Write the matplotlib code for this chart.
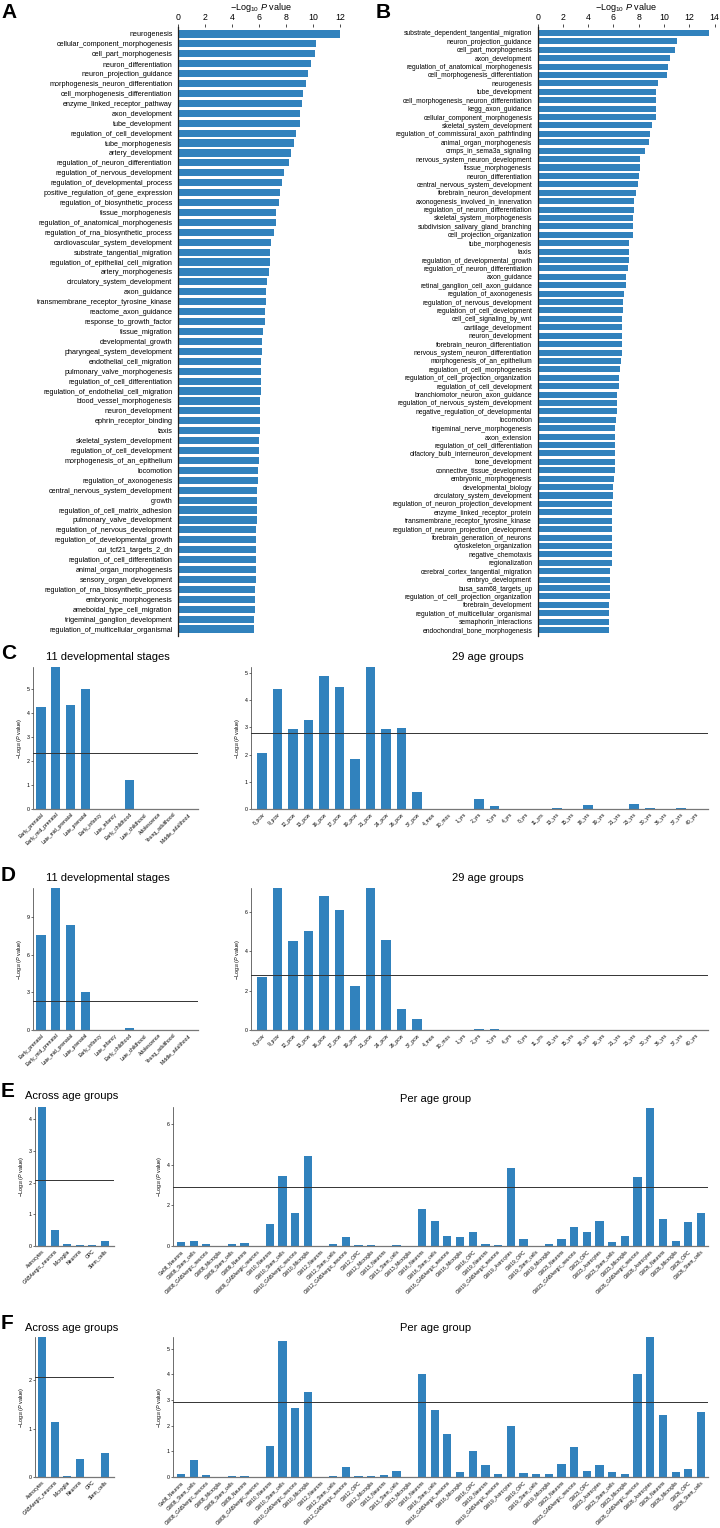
import numpy as np
import matplotlib
matplotlib.use("Agg")
import matplotlib.pyplot as plt

plt.rcParams['font.family'] = ['Liberation Sans', 'DejaVu Sans']
plt.rcParams['mathtext.fontset'] = 'custom'
plt.rcParams['mathtext.rm'] = 'Liberation Sans'
plt.rcParams['mathtext.it'] = 'Liberation Sans:italic'

BLUE = '#3182bd'
LINE = '#333333'

# ---- panel A: gene sets ----
a_terms = [
    'neurogenesis', 'cellular_component_morphogenesis', 'cell_part_morphogenesis',
    'neuron_differentiation', 'neuron_projection_guidance', 'morphogenesis_neuron_differentiation',
    'cell_morphogenesis_differentiation', 'enzyme_linked_receptor_pathway', 'axon_development',
    'tube_development', 'regulation_of_cell_development', 'tube_morphogenesis', 'artery_development',
    'regulation_of_neuron_differentiation', 'regulation_of_nervous_development',
    'regulation_of_developmental_process', 'positive_regulation_of_gene_expression',
    'regulation_of_biosynthetic_process', 'tissue_morphogenesis',
    'regulation_of_anatomical_morphogenesis', 'regulation_of_rna_biosynthetic_process',
    'cardiovascular_system_development', 'substrate_tangential_migration',
    'regulation_of_epithelial_cell_migration', 'artery_morphogenesis',
    'circulatory_system_development', 'axon_guidance', 'transmembrane_receptor_tyrosine_kinase',
    'reactome_axon_guidance', 'response_to_growth_factor', 'tissue_migration',
    'developmental_growth', 'pharyngeal_system_development', 'endothelial_cell_migration',
    'pulmonary_valve_morphogenesis', 'regulation_of_cell_differentiation',
    'regulation_of_endothelial_cell_migration', 'blood_vessel_morphogenesis',
    'neuron_development', 'ephrin_receptor_binding', 'taxis', 'skeletal_system_development',
    'regulation_of_cell_development', 'morphogenesis_of_an_epithelium', 'locomotion',
    'regulation_of_axonogenesis', 'central_nervous_system_development', 'growth',
    'regulation_of_cell_matrix_adhesion', 'pulmonary_valve_development',
    'regulation_of_nervous_development', 'regulation_of_developmental_growth',
    'cui_tcf21_targets_2_dn', 'regulation_of_cell_differentiation', 'animal_organ_morphogenesis',
    'sensory_organ_development', 'regulation_of_rna_biosynthetic_process',
    'embryonic_morphogenesis', 'ameboidal_type_cell_migration', 'trigeminal_ganglion_development',
    'regulation_of_multicellular_organismal',
]
a_vals = [
    12.0, 10.18, 10.13, 9.8, 9.58, 9.46, 9.27, 9.17, 9.04, 9.02, 8.72, 8.6, 8.38, 8.2, 7.81,
    7.69, 7.54, 7.49, 7.27, 7.27, 7.12, 6.85, 6.8, 6.78, 6.75, 6.58, 6.53, 6.51, 6.43, 6.41,
    6.26, 6.24, 6.21, 6.16, 6.16, 6.14, 6.11, 6.09, 6.09, 6.06, 6.06, 6.01, 6.01, 6.01, 5.91,
    5.91, 5.86, 5.86, 5.81, 5.81, 5.79, 5.78, 5.77, 5.76, 5.74, 5.73, 5.72, 5.71, 5.68, 5.65,
    5.62,
]

# ---- panel B: gene sets ----
b_terms = [
    'substrate_dependent_tangential_migration', 'neuron_projection_guidance',
    'cell_part_morphogenesis', 'axon_development', 'regulation_of_anatomical_morphogenesis',
    'cell_morphogenesis_differentiation', 'neurogenesis', 'tube_development',
    'cell_morphogenesis_neuron_differentiation', 'kegg_axon_guidance',
    'cellular_component_morphogenesis', 'skeletal_system_development',
    'regulation_of_commissural_axon_pathfinding', 'animal_organ_morphogenesis',
    'crmps_in_sema3a_signaling', 'nervous_system_neuron_development', 'tissue_morphogenesis',
    'neuron_differentiation', 'central_nervous_system_development', 'forebrain_neuron_development',
    'axonogenesis_involved_in_innervation', 'regulation_of_neuron_differentiation',
    'skeletal_system_morphogenesis', 'subdivision_salivary_gland_branching',
    'cell_projection_organization', 'tube_morphogenesis', 'taxis',
    'regulation_of_developmental_growth', 'regulation_of_neuron_differentiation', 'axon_guidance',
    'retinal_ganglion_cell_axon_guidance', 'regulation_of_axonogenesis',
    'regulation_of_nervous_development', 'regulation_of_cell_development',
    'cell_cell_signaling_by_wnt', 'cartilage_development', 'neuron_development',
    'forebrain_neuron_differentiation', 'nervous_system_neuron_differentiation',
    'morphogenesis_of_an_epithelium', 'regulation_of_cell_morphogenesis',
    'regulation_of_cell_projection_organization', 'regulation_of_cell_development',
    'branchiomotor_neuron_axon_guidance', 'regulation_of_nervous_system_development',
    'negative_regulation_of_developmental', 'locomotion', 'trigeminal_nerve_morphogenesis',
    'axon_extension', 'regulation_of_cell_differentiation', 'olfactory_bulb_interneuron_development',
    'bone_development', 'connective_tissue_development', 'embryonic_morphogenesis',
    'developmental_biology', 'circulatory_system_development',
    'regulation_of_neuron_projection_development', 'enzyme_linked_receptor_protein',
    'transmembrane_receptor_tyrosine_kinase', 'regulation_of_neuron_projection_development',
    'forebrain_generation_of_neurons', 'cytoskeleton_organization', 'negative_chemotaxis',
    'regionalization', 'cerebral_cortex_tangential_migration', 'embryo_development',
    'busa_sam68_targets_up', 'regulation_of_cell_projection_organization', 'forebrain_development',
    'regulation_of_multicellular_organismal', 'semaphorin_interactions',
    'endochondral_bone_morphogenesis',
]
b_vals = [
    13.54, 11.06, 10.9, 10.45, 10.29, 10.24, 9.5, 9.39, 9.37, 9.37, 9.34, 9.08, 8.87, 8.84,
    8.47, 8.13, 8.07, 7.99, 7.97, 7.76, 7.63, 7.6, 7.57, 7.55, 7.55, 7.2, 7.2, 7.2, 7.15, 7.02,
    6.97, 6.81, 6.78, 6.75, 6.7, 6.7, 6.7, 6.65, 6.65, 6.62, 6.54, 6.41, 6.41, 6.31, 6.31, 6.25,
    6.23, 6.15, 6.12, 6.1, 6.1, 6.1, 6.1, 6.04, 5.99, 5.94, 5.86, 5.86, 5.86, 5.86, 5.86, 5.86,
    5.85, 5.85, 5.75, 5.73, 5.73, 5.73, 5.65, 5.65, 5.65, 5.65,
]

# ---- panels C/D ----
stages = ['Early_prenatal', 'Early_mid_prenatal', 'Late_mid_prenatal', 'Late_prenatal',
          'Early_infancy', 'Late_infancy', 'Early_childhood', 'Late_childhood', 'Adolescence',
          'Young_adulthood', 'Middle_adulthood']
ages = ['8_pcw', '9_pcw', '12_pcw', '13_pcw', '16_pcw', '17_pcw', '19_pcw', '21_pcw', '24_pcw',
        '26_pcw', '37_pcw', '4_mos', '10_mos', '1_yrs', '2_yrs', '3_yrs', '4_yrs', '8_yrs',
        '11_yrs', '13_yrs', '15_yrs', '18_yrs', '19_yrs', '21_yrs', '23_yrs', '30_yrs',
        '36_yrs', '37_yrs', '40_yrs']
c_stage = [4.22, 5.9, 4.32, 4.98, 0.02, 0.0, 1.2, 0.0, 0.02, 0.0, 0.0]
c_stage_thr = 2.33
c_age = [2.07, 4.4, 2.95, 3.27, 4.9, 4.47, 1.85, 5.22, 2.93, 2.96, 0.62, 0.01, 0.01, 0.01,
         0.37, 0.1, 0.0, 0.0, 0.0, 0.03, 0.0, 0.13, 0.01, 0.01, 0.18, 0.02, 0.0, 0.02, 0.0]
c_age_thr = 2.78
d_stage = [7.6, 11.35, 8.38, 3.0, 0.0, 0.0, 0.15, 0.0, 0.0, 0.0, 0.0]
d_stage_thr = 2.3
d_age = [2.67, 7.2, 4.5, 5.0, 6.8, 6.1, 2.22, 7.2, 4.58, 1.05, 0.56, 0.0, 0.0, 0.0, 0.07,
         0.03, 0.0, 0.0, 0.0, 0.0, 0.0, 0.02, 0.0, 0.0, 0.02, 0.0, 0.0, 0.0, 0.0]
d_age_thr = 2.77

# ---- panels E/F ----
cell_types = ['Astrocytes', 'GABAergic_neurons', 'Microglia', 'Neurons', 'OPC', 'Stem_cells']
groups = [
    'Gw08_Neurons', 'GW08_Stem_cells', 'GW08_GABAergic_neurons', 'GW08_Microglia',
    'GW09_Stem_cells', 'GW09_Neurons', 'GW09_GABAergic_neurons', 'GW10_Neurons',
    'GW10_Stem_cells', 'GW10_GABAergic_neurons', 'GW10_Microglia', 'GW12_Neurons',
    'GW12_Stem_cells', 'GW12_GABAergic_neurons', 'GW12_OPC', 'GW12_Microglia', 'GW13_Neurons',
    'GW13_Stem_cells', 'GW13_Microglia', 'GW16_Neurons', 'GW16_Stem_cells',
    'GW16_GABAergic_neurons', 'GW16_Microglia', 'GW16_OPC', 'GW19_Neurons',
    'GW19_GABAergic_neurons', 'GW19_Astrocytes', 'GW19_OPC', 'GW19_Stem_cells',
    'GW19_Microglia', 'GW23_Neurons', 'GW23_GABAergic_neurons', 'GW23_OPC', 'GW23_Astrocytes',
    'GW23_Stem_cells', 'GW23_Microglia', 'GW26_GABAergic_neurons', 'GW26_Astrocytes',
    'GW26_Neurons', 'GW26_Microglia', 'GW26_OPC', 'GW26_Stem_cells',
]
e_cell = [4.38, 0.5, 0.05, 0.04, 0.04, 0.17]
e_cell_thr = 2.08
e_group = [0.2, 0.27, 0.1, 0.02, 0.1, 0.13, 0.02, 1.07, 3.45, 1.63, 4.42, 0.01, 0.1, 0.45,
           0.04, 0.04, 0.01, 0.04, 0.01, 1.8, 1.25, 0.49, 0.46, 0.68, 0.1, 0.06, 3.83, 0.34,
           0.01, 0.08, 0.32, 0.93, 0.68, 1.25, 0.18, 0.5, 3.38, 6.8, 1.35, 0.25, 1.17, 1.6]
e_group_thr = 2.9
f_cell = [2.9, 1.13, 0.02, 0.38, 0.0, 0.5]
f_cell_thr = 2.08
f_group = [0.1, 0.65, 0.06, 0.0, 0.04, 0.05, 0.01, 1.2, 5.28, 2.68, 3.3, 0.0, 0.04, 0.37,
           0.05, 0.05, 0.09, 0.22, 0.0, 4.02, 2.6, 1.66, 0.18, 1.0, 0.45, 0.1, 1.98, 0.17,
           0.13, 0.1, 0.52, 1.16, 0.25, 0.45, 0.2, 0.1, 4.0, 5.45, 2.4, 0.18, 0.3, 2.53]
f_group_thr = 2.92

W, H = 720, 1528
fig = plt.figure(figsize=(W / 100, H / 100), dpi=100)


def add_ax(l, t, r, b):
    return fig.add_axes([l / W, 1 - b / H, (r - l) / W, (b - t) / H])


def letter(x, y, s):
    fig.text(x / W, 1 - y / H, s, fontsize=15, fontweight='bold', va='top', ha='left')


def term_panel(l, r, terms, vals, xmax, xticks, fs):
    ax = add_ax(l, 27, r, 636)
    y = np.arange(len(terms))
    ax.barh(y, vals, height=0.72, color=BLUE)
    ax.set_ylim(len(terms) - 0.3, -0.7)
    ax.set_xlim(0, xmax)
    ax.set_yticks(y)
    ax.set_yticklabels(terms, fontsize=fs)
    ax.xaxis.tick_top()
    ax.xaxis.set_label_position('top')
    ax.set_xticks(xticks)
    ax.tick_params(axis='x', labelsize=6.3, length=2, pad=1.5, width=0.5)
    ax.tick_params(axis='y', length=0, pad=4)
    ax.set_xlabel('\u2212Log$_{10}$ $\\it{P}$ value', fontsize=6.5, labelpad=2)
    for side in ('right', 'bottom', 'top'):
        ax.spines[side].set_visible(False)
    ax.spines['left'].set_linewidth(0.9)
    ax.spines['left'].set_color('#222222')
    return ax


def small_panel(l, t, r, b, labels, vals, thr, ymax, yticks, xlim, width, fs=3.6):
    ax = add_ax(l, t, r, b)
    x = np.arange(len(vals))
    ax.bar(x, vals, width=width, color=BLUE)
    ax.axhline(thr, color=LINE, lw=0.7)
    ax.set_xlim(*xlim)
    ax.set_ylim(0, ymax)
    ax.set_yticks(yticks)
    ax.set_xticks(x)
    ax.set_xticklabels(labels, rotation=45, ha='right', rotation_mode='anchor', fontsize=fs)
    ax.tick_params(axis='y', labelsize=3.8, length=1.5, pad=1, width=0.4)
    ax.tick_params(axis='x', length=0, pad=2)
    ax.set_ylabel('\u2212Log$_{10}$ ($\\it{P}$ value)', fontsize=3.9, labelpad=1.5)
    for side in ('right', 'top'):
        ax.spines[side].set_visible(False)
    ax.spines['left'].set_linewidth(0.5)
    ax.spines['left'].set_color('#333333')
    ax.spines['bottom'].set_linewidth(0.9)
    ax.spines['bottom'].set_color('#777777')
    return ax


# A and B
letter(1, 3, 'A')
term_panel(178, 344.5, a_terms, a_vals, 12.3, range(0, 13, 2), 5.2)
letter(376, 3, 'B')
term_panel(537.7, 714.5, b_terms, b_vals, 14, range(0, 15, 2), 4.85)

# C
letter(1, 644, 'C')
small_panel(33, 667, 198, 809, stages, c_stage, c_stage_thr, 5.9, range(0, 6),
            (-0.54, 10.66), 0.62)
fig.text(108 / W, 1 - 657 / H, '11 developmental stages', fontsize=8, ha='center', va='center')
small_panel(251, 667, 708, 809, ages, c_age, c_age_thr, 5.22, range(0, 6),
            (-0.71, 28.77), 0.64)
fig.text(488 / W, 1 - 657 / H, '29 age groups', fontsize=8, ha='center', va='center')

# D
letter(1, 866, 'D')
small_panel(33, 888, 198, 1030, stages, d_stage, d_stage_thr, 11.35, [0, 3, 6, 9],
            (-0.54, 10.66), 0.62)
fig.text(108 / W, 1 - 878 / H, '11 developmental stages', fontsize=8, ha='center', va='center')
small_panel(251, 888, 708, 1030, ages, d_age, d_age_thr, 7.2, [0, 2, 4, 6],
            (-0.71, 28.77), 0.64)
fig.text(488 / W, 1 - 878 / H, '29 age groups', fontsize=8, ha='center', va='center')

# E
letter(1, 1082, 'E')
small_panel(35, 1107, 114, 1246, cell_types, e_cell, e_cell_thr, 4.38, range(0, 5),
            (-0.56, 5.71), 0.63)
fig.text(25 / W, 1 - 1096 / H, 'Across age groups', fontsize=8, ha='left', va='center')
small_panel(173, 1107, 708, 1246, groups, e_group, e_group_thr, 6.84, [0, 2, 4, 6],
            (-0.63, 41.55), 0.65, fs=3.4)
fig.text(436 / W, 1 - 1099 / H, 'Per age group', fontsize=8, ha='center', va='center')

# F
letter(1, 1314, 'F')
small_panel(35, 1337, 114, 1477, cell_types, f_cell, f_cell_thr, 2.9, range(0, 3),
            (-0.56, 5.71), 0.63)
fig.text(25 / W, 1 - 1328 / H, 'Across age groups', fontsize=8, ha='left', va='center')
small_panel(173, 1337, 708, 1477, groups, f_group, f_group_thr, 5.45, range(0, 6),
            (-0.63, 41.55), 0.65, fs=3.4)
fig.text(436 / W, 1 - 1328 / H, 'Per age group', fontsize=8, ha='center', va='center')

fig.savefig('out.png', dpi=100)
